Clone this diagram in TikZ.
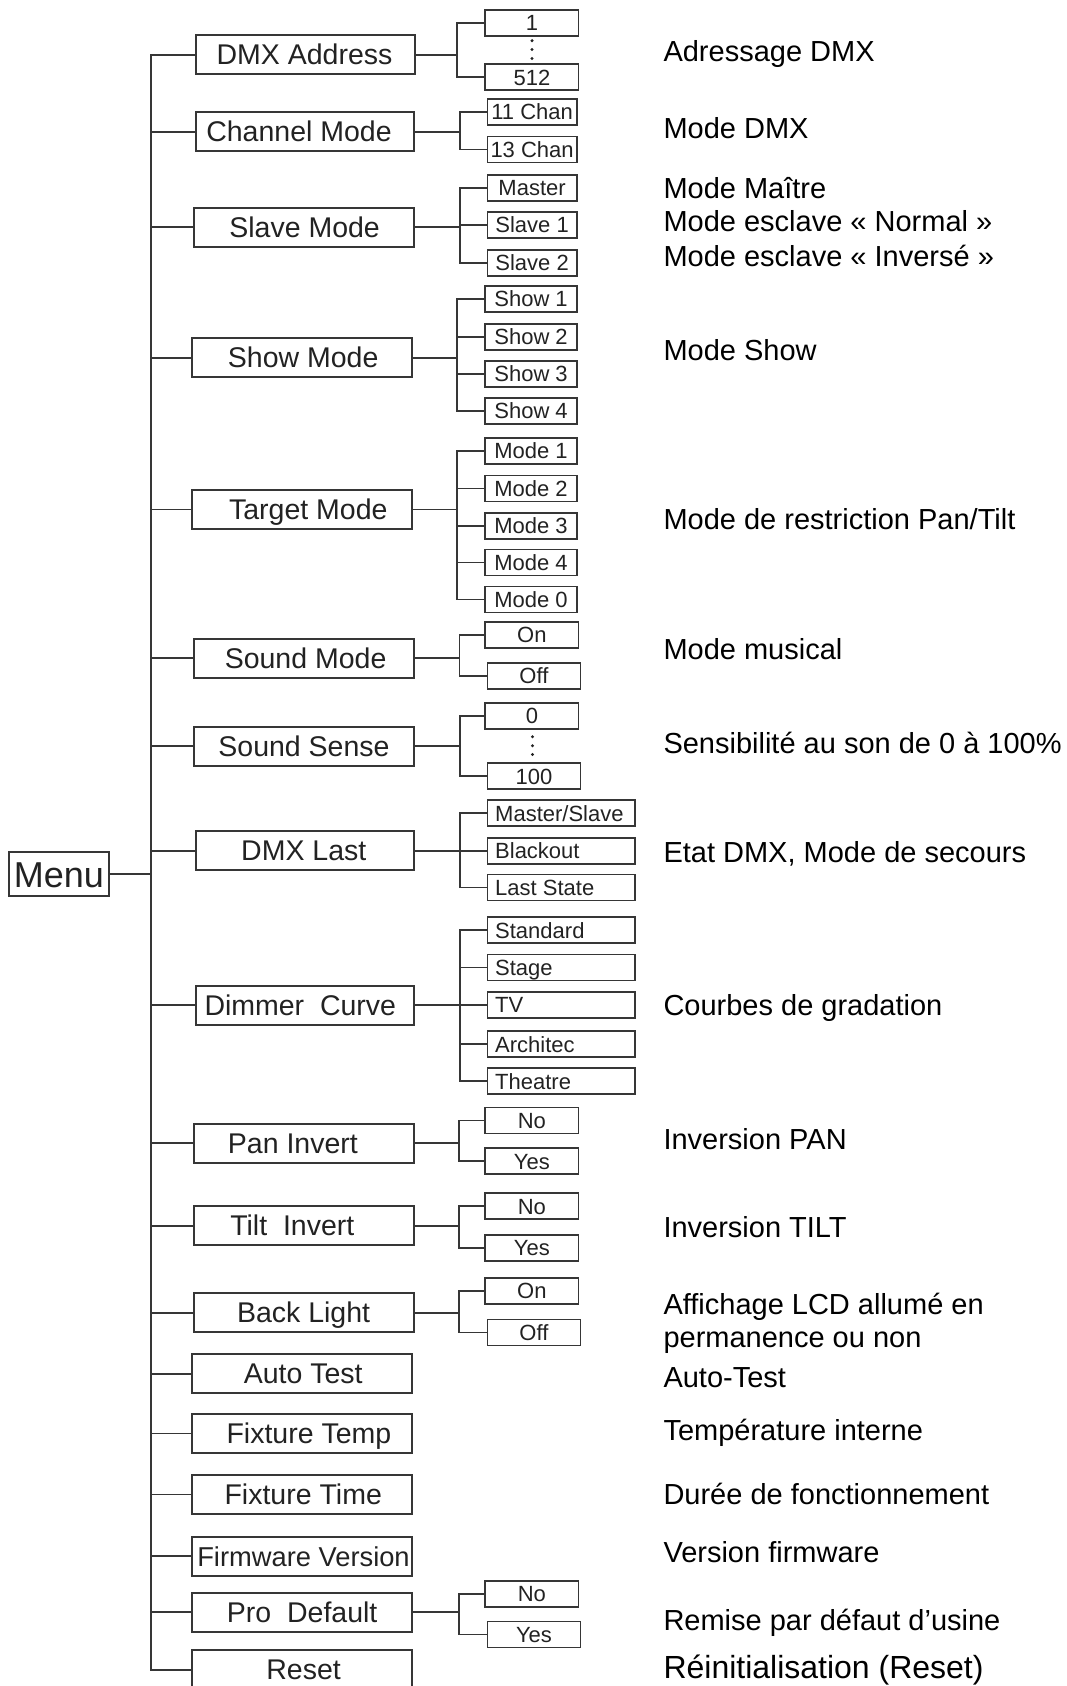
\documentclass[tikz,border=0pt]{standalone}
\usepackage{fontspec}
\setmainfont{Liberation Sans}
\definecolor{ln}{HTML}{363636}
\definecolor{tx}{HTML}{222222}
\newcommand\mainbx[6]{%
  \node[mbox, minimum width={#3-#2}] (#1) at ({(#2+#3)/2},#4) {};
  \node[mtext] (#1t) at (#6,#4) {#5};
  \draw[conn] (#1.west) -- (#1.west -| spinetop);
}
\newcommand\subbx[5]{%
  \node[sbox, minimum width={#3-#2}] (#1) at ({(#2+#3)/2},#4) {#5};
}
\newcommand\widebx[3]{%
  \node[sbox, minimum width={634.7-487.4}] (#1) at (561.05,#2) {};
  \node[stext, anchor=west] (#1t) at (495,#2) {#3};
}
\newcommand\fan[5]{% main, junction x, first, last, all
  \coordinate (#1j) at (#2,0);
  \draw[conn] (#1.east) -- (#1.east -| #1j);
  \draw[conn] (#3.west -| #1j) -- (#4.west -| #1j);
  \foreach \s in {#5} {\draw[conn] (\s.west -| #1j) -- (\s.west);}
}
\begin{document}
\begin{tikzpicture}[x=1pt,y=-1pt,
  conn/.style={draw=ln, line width=1.9pt, line cap=rect},
  mbox/.style={draw=ln, line width=2pt, minimum height=39pt, inner sep=0pt},
  mtext/.style={inner sep=0pt, text height=20pt, text depth=0pt, text=tx,
    font=\fontsize{28.5}{30}\selectfont},
  sbox/.style={draw=ln, line width=1.8pt, minimum height=26pt, inner sep=0pt,
    text height=15.8pt, text depth=0pt, text=tx, font=\fontsize{22}{24}\selectfont},
  stext/.style={inner sep=0pt, text height=15.8pt, text depth=0pt, text=tx,
    font=\fontsize{22}{24}\selectfont},
  rtext/.style={inner sep=0pt, anchor=base west, font=\fontsize{29}{34}\selectfont},
  dot/.style={fill=tx}
]
\useasboundingbox (0,0) rectangle (1066,1686);

% spine
\coordinate (spinetop) at (150.6,55);
\coordinate (spinebot) at (150.6,1667.7);
\draw[conn] (spinetop) -- (spinebot);

% Menu
\node[draw=ln, line width=2pt, minimum width=100pt, minimum height=43.7pt, inner sep=0pt,
  text height=25.8pt, text depth=0pt, text=tx, font=\fontsize{36}{38}\selectfont]
  (menu) at (59,874.2) {Menu};
\draw[conn] (menu.east) -- (menu.east -| spinetop);

% main boxes
\mainbx{dmx}{195.7}{415.2}{54.7}{DMX Address}{304.5}
\mainbx{chan}{195.7}{413.5}{131.7}{Channel Mode}{299}
\mainbx{slave}{193.6}{413.5}{227}{Slave Mode}{304.6}
\mainbx{show}{192}{412}{357.8}{Show Mode}{303.2}
\mainbx{target}{192}{412}{509.5}{Target Mode}{308.3}
\mainbx{smode}{193.6}{413.5}{658}{Sound Mode}{305.6}
\mainbx{ssense}{193.6}{413.5}{746.3}{Sound Sense}{304}
\mainbx{dlast}{195.7}{413.5}{850.7}{DMX Last}{303.8}
\mainbx{dimmer}{195.7}{413.5}{1005.2}{Dimmer\ \ Curve}{300.3}
\mainbx{pan}{193.6}{413.5}{1143.3}{Pan Invert}{292.9}
\mainbx{tilt}{193.6}{413.5}{1225.8}{Tilt\ \ Invert}{292.3}
\mainbx{back}{193.6}{413.5}{1312.7}{Back Light}{303.6}
\mainbx{auto}{192}{412}{1373.7}{Auto Test}{303.2}
\mainbx{ftemp}{192}{412}{1433.5}{Fixture Temp}{308.9}
\mainbx{ftime}{192}{412}{1494.5}{Fixture Time}{303.2}
\mainbx{fw}{192}{412}{1556.2}{\fontsize{27.3}{29}\selectfont Firmware Version}{303.5}
\mainbx{pro}{192}{412}{1612}{Pro\ \ Default}{302.2}
\mainbx{reset}{192}{412}{1669.7}{Reset}{303.6}

% DMX Address
\subbx{d1}{485.3}{578.5}{22.8}{1}
\subbx{d512}{485.3}{578.5}{77.3}{512}
\fill[dot] (532,40.7) circle (1.7) (532,49.5) circle (1.7) (532,58.5) circle (1.7);
\fan{dmx}{457.4}{d1}{d512}{d1,d512}

% Channel Mode
\subbx{c11}{487.4}{576.8}{111.7}{11 Chan}
\subbx{c13}{487.4}{576.8}{149.5}{13 Chan}
\fan{chan}{460.3}{c11}{c13}{c11,c13}

% Slave Mode
\subbx{sm}{487.4}{576.8}{188}{Master}
\subbx{sa}{487.4}{576.8}{225}{Slave 1}
\subbx{sb}{487.4}{576.8}{263}{Slave 2}
\fan{slave}{460.3}{sm}{sb}{sm,sa,sb}

% Show Mode
\subbx{sha}{485.3}{576.8}{299}{Show 1}
\subbx{shb}{485.3}{576.8}{336.8}{Show 2}
\subbx{shc}{485.3}{576.8}{373.8}{Show 3}
\subbx{shd}{485.3}{576.8}{411}{Show 4}
\fan{show}{457.4}{sha}{shd}{sha,shb,shc,shd}

% Target Mode
\subbx{ma}{485.3}{576.8}{450.7}{Mode 1}
\subbx{mb}{485.3}{576.8}{488.5}{Mode 2}
\subbx{mc}{485.3}{576.8}{525.7}{Mode 3}
\subbx{md}{485.3}{576.8}{562.5}{Mode 4}
\subbx{me}{485.3}{576.8}{599.5}{Mode 0}
\fan{target}{457.4}{ma}{me}{ma,mb,mc,md,me}

% Sound Mode
\subbx{son}{485.3}{578.5}{634.8}{On}
\subbx{soff}{487.4}{580.5}{675.7}{Off}
\fan{smode}{459.5}{son}{soff}{son,soff}

% Sound Sense
\subbx{szero}{485.3}{578.5}{715.8}{0}
\subbx{shund}{487.4}{580.5}{776.2}{100}
\fill[dot] (532.5,736.7) circle (1.7) (532.5,745.7) circle (1.7) (532.5,754.5) circle (1.7);
\fan{ssense}{460.3}{szero}{shund}{szero,shund}

% DMX Last
\widebx{dla}{813.3}{Master/Slave}
\widebx{dlb}{850.7}{Blackout}
\widebx{dlc}{887.5}{Last State}
\fan{dlast}{460.3}{dla}{dlc}{dla,dlb,dlc}

% Dimmer Curve
\widebx{dca}{930.3}{Standard}
\widebx{dcb}{967.5}{Stage}
\widebx{dcc}{1004.7}{TV}
\widebx{dcd}{1044.2}{Architec}
\widebx{dce}{1081.2}{Theatre}
\fan{dimmer}{460.3}{dca}{dce}{dca,dcb,dcc,dcd,dce}

% Pan Invert
\subbx{pno}{485.3}{578.5}{1120.5}{No}
\subbx{pyes}{485.3}{578.5}{1161.2}{Yes}
\fan{pan}{458.7}{pno}{pyes}{pno,pyes}

% Tilt Invert
\subbx{tno}{485.3}{578.5}{1206.3}{No}
\subbx{tyes}{485.3}{578.5}{1247.8}{Yes}
\fan{tilt}{458.7}{tno}{tyes}{tno,tyes}

% Back Light
\subbx{bon}{485.3}{578.5}{1290.8}{On}
\subbx{boff}{487.4}{580.5}{1332.5}{Off}
\fan{back}{458.7}{bon}{boff}{bon,boff}

% Pro Default
\subbx{prno}{485.3}{578.5}{1593.8}{No}
\subbx{pryes}{487.4}{580.5}{1634.5}{Yes}
\fan{pro}{458.7}{prno}{pryes}{prno,pryes}

% right column texts
\node[rtext] (r1) at (663.3,61.7) {Adressage DMX};
\node[rtext] (r2) at (663.3,138.3) {Mode DMX};
\node[rtext] (r3) at (663.3,198.3) {Mode Maître};
\node[rtext] (r4) at (663.3,231.7) {Mode esclave « Normal »};
\node[rtext] (r5) at (663.3,266.7) {Mode esclave « Inversé »};
\node[rtext] (r6) at (663.3,360) {Mode Show};
\node[rtext] (r7) at (663.3,529.3) {Mode de restriction Pan/Tilt};
\node[rtext] (r8) at (663.3,659.3) {Mode musical};
\node[rtext] (r9) at (663.3,753.3) {Sensibilité au son de 0 à 100\%};
\node[rtext] (r10) at (663.3,862.7) {Etat DMX, Mode de secours};
\node[rtext] (r11) at (663.3,1015) {Courbes de gradation};
\node[rtext] (r12) at (663.3,1149.3) {Inversion PAN};
\node[rtext] (r13) at (663.3,1237.3) {Inversion TILT};
\node[rtext] (r14) at (663.3,1314) {Affichage LCD allumé en};
\node[rtext] (r15) at (663.3,1347.3) {permanence ou non};
\node[rtext] (r16) at (663.3,1387.3) {Auto-Test};
\node[rtext] (r17) at (663.3,1440.7) {Température interne};
\node[rtext] (r18) at (663.3,1504) {Durée de fonctionnement};
\node[rtext] (r19) at (663.3,1562.7) {Version firmware};
\node[rtext] (r20) at (663.3,1630) {Remise par défaut d’usine};
\node[rtext, font=\fontsize{32}{36}\selectfont] (r21) at (663.3,1678.3) {Réinitialisation (Reset)};
\end{tikzpicture}
\end{document}
